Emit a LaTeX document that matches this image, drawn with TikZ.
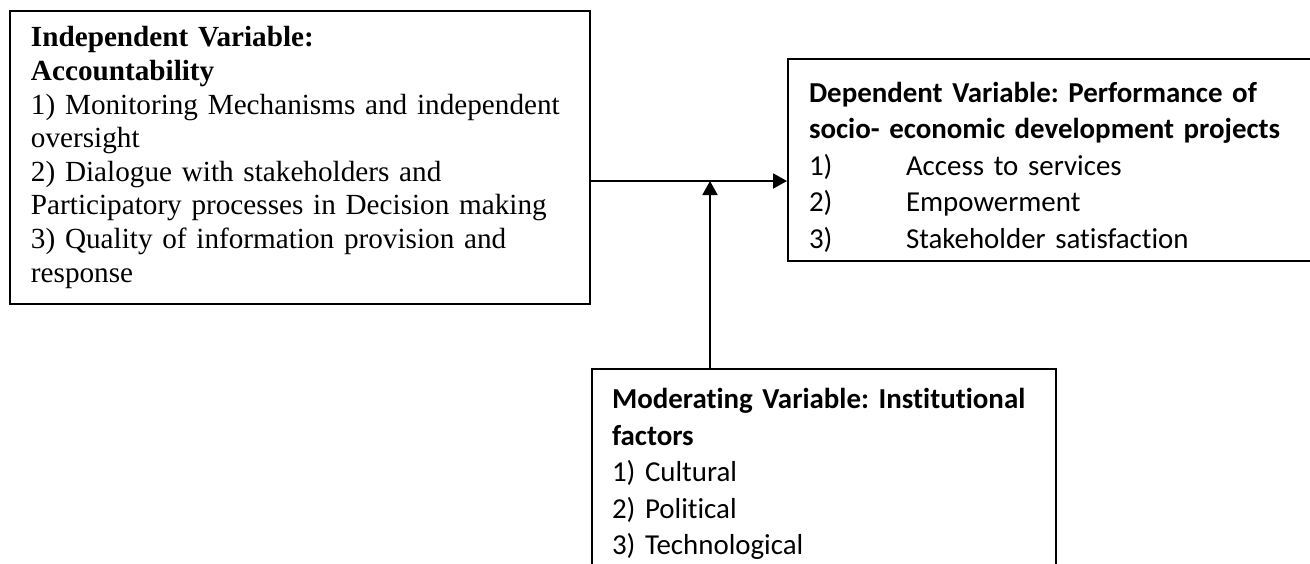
\documentclass[tikz,border=0pt]{standalone}
\usepackage{fontspec}
\setmainfont{Liberation Serif}
\newfontfamily\calibri[Ligatures=NoCommon]{Carlito}
\usetikzlibrary{arrows.meta, positioning}
\frenchspacing
\hyphenpenalty=10000
\tikzset{
  varbox/.style={rectangle, draw=black, line width=1pt, fill=white,
    align=left, inner ysep=0pt, anchor=north west},
  serifbox/.style={varbox, text width=269pt, inner xsep=10.5pt,
    minimum height=146.5pt, font=\fontsize{14.6pt}{16.8pt}\selectfont},
  sansbox/.style={varbox, inner xsep=10.5pt,
    font=\calibri\fontsize{14.45pt}{18.25pt}\selectfont},
  arrow/.style={-{Triangle[length=7pt, width=7.5pt]}, line width=1pt}
}
\newcommand{\itemnum}[1]{\makebox[48.5pt][l]{#1}}

\begin{document}
\begin{tikzpicture}[x=0.5pt, y=-0.5pt]
  \useasboundingbox (0,0) rectangle (1310,563);
  \clip (0,0) rectangle (1310,563);

  \node[serifbox] (indep) at (9,10)
    {\textbf{Independent Variable:}\\
     \textbf{Accountability}\\
     1) Monitoring Mechanisms and independent\\
     oversight\\
     2) Dialogue with stakeholders and\\
     Participatory processes in Decision making\\
     3) Quality of information provision and\\
     response};
  \node[sansbox, text width=249pt, minimum height=101pt, text height=17pt] (dep) at (787,58)
    {\textbf{Dependent Variable: Performance of}\\
     \textbf{socio- economic development projects}\\
     \itemnum{1)}Access to services\\
     \itemnum{2)}Empowerment\\
     \itemnum{3)}Stakeholder satisfaction};
  \node[sansbox, text width=212pt, inner xsep=10pt, inner ysep=9.75pt] (moder) at (591,368)
    {\textbf{Moderating Variable: Institutional}\\
     \textbf{factors}\\
     1) Cultural\\
     2) Political\\
     3) Technological};

  \coordinate (jn) at (710,181);
  \draw[arrow] (indep.east |- jn) -- (dep.west |- jn);
  \draw[arrow] (moder.north -| jn) -- (jn);
\end{tikzpicture}
\end{document}
